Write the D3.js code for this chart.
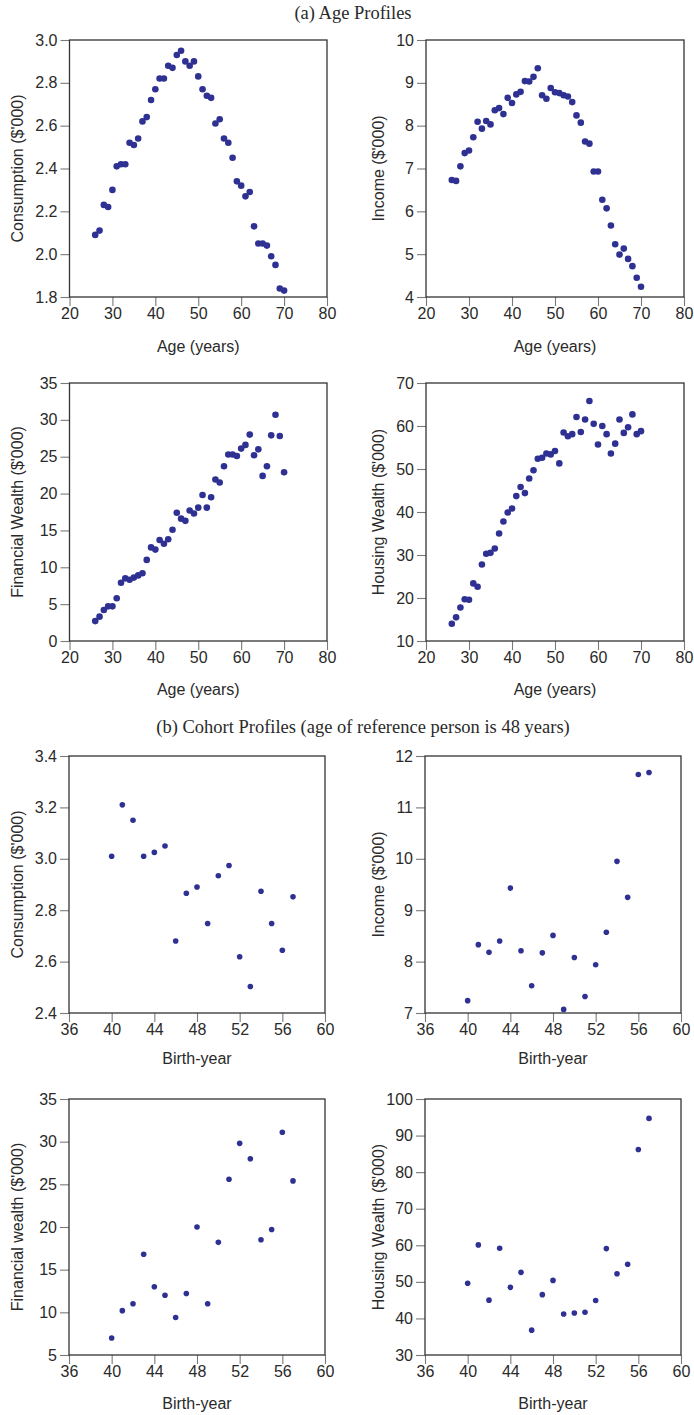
<!DOCTYPE html>
<html>
<head>
<meta charset="utf-8">
<script src="https://cdn.jsdelivr.net/npm/d3@7"></script>
<style>
  body { margin: 0; background: #fff; }
  svg text { font-family: "Liberation Sans", Arial, sans-serif; fill: #2a2a2a; }
  .title { font-family: "Liberation Serif", "Times New Roman", serif !important; }
</style>
</head>
<body>
<svg id="chart" width="694" height="1415"></svg>
<script>
// ---- data ----
const ages = [26,27,28,29,30,31,32,33,34,35,36,37,38,39,40,41,42,43,44,45,46,47,48,
              49,50,51,52,53,54,55,56,57,58,59,60,61,62,63,64,65,66,67,68,69,70];

const consumptionAge = [2.09,2.11,2.23,2.22,2.30,2.41,2.42,2.42,2.52,2.51,2.54,2.62,2.64,2.72,2.77,
  2.82,2.82,2.88,2.87,2.93,2.95,2.90,2.88,2.90,2.83,2.77,2.74,2.73,2.61,2.63,2.54,2.52,2.45,
  2.34,2.32,2.27,2.29,2.13,2.05,2.05,2.04,1.99,1.95,1.84,1.83];

const incomeAge = [6.73,6.71,7.05,7.36,7.42,7.73,8.09,7.93,8.11,8.03,8.36,8.41,8.27,8.65,8.53,
  8.73,8.79,9.04,9.03,9.14,9.34,8.71,8.63,8.88,8.78,8.76,8.71,8.68,8.55,8.24,8.07,7.63,7.58,
  6.93,6.93,6.27,6.07,5.67,5.23,4.99,5.13,4.89,4.72,4.45,4.24];

const finWealthAge = [2.7,3.3,4.2,4.7,4.7,5.8,7.9,8.5,8.3,8.6,8.9,9.2,11.0,12.7,12.4,13.7,13.2,
  13.8,15.1,17.4,16.6,16.3,17.7,17.3,18.1,19.8,18.1,19.5,21.9,21.5,23.7,25.3,25.3,25.1,26.1,
  26.6,28.0,25.2,26.0,22.4,23.7,27.9,30.7,27.8,22.9];

const housWealthAge = [14.0,15.5,17.8,19.7,19.6,23.4,22.6,27.8,30.3,30.5,31.5,35.0,37.8,39.9,40.8,
  43.7,45.8,44.4,47.8,49.7,52.4,52.6,53.6,53.4,54.2,51.3,58.5,57.6,58.1,62.1,58.6,61.5,65.8,
  60.5,55.7,60.0,58.1,53.6,55.9,61.5,58.4,59.7,62.7,58.1,58.8];

const birthYears = [40,41,42,43,44,45,46,47,48,49,50,51,52,53,54,55,56,57];

const consumptionCohort = [3.01,3.21,3.15,3.01,3.025,3.05,2.68,2.866,2.89,2.748,2.934,2.974,
  2.619,2.503,2.874,2.748,2.644,2.852];

const incomeCohort = [7.24,8.33,8.18,8.40,9.43,8.21,7.53,8.17,8.51,7.07,8.08,7.32,7.94,8.57,
  9.95,9.25,11.64,11.68];

const finWealthCohort = [7.0,10.2,11.0,16.8,13.0,12.0,9.4,12.2,20.0,11.0,18.2,25.6,29.8,28.0,
  18.5,19.7,31.1,25.4];

const housWealthCohort = [49.6,60.1,45.0,59.2,48.5,52.6,36.8,46.5,50.4,41.2,41.5,41.7,44.9,
  59.1,52.2,54.8,86.2,94.7];

const ageTicks = [20,30,40,50,60,70,80];
const yearTicks = [36,40,44,48,52,56,60];

const titles = ["(a) Age Profiles", "(b) Cohort Profiles (age of reference person is 48 years)"];

// ---- layout ----
const rows = [
  {top: 40, bottom: 297, xlabOff: 49},
  {top: 383, bottom: 641, xlabOff: 48},
  {top: 756, bottom: 1013, xlabOff: 45},
  {top: 1099, bottom: 1355, xlabOff: 48}
];
const colsTop = [{l: 69.5, r: 327, ylabOff: -52.5}, {l: 426, r: 684, ylabOff: -48}];
const colsBottom = [{l: 69, r: 325, ylabOff: -52}, {l: 425, r: 681, ylabOff: -47}];

const panels = [
  {row: 0, col: 0, x: ages, y: consumptionAge, xd: [20,80], xt: ageTicks, yd: [1.8,3.0], yt: [1.8,2.0,2.2,2.4,2.6,2.8,3.0], fmt: ".1f", xlab: "Age (years)", ylab: "Consumption ($'000)", r: 3.3},
  {row: 0, col: 1, x: ages, y: incomeAge, xd: [20,80], xt: ageTicks, yd: [4,10], yt: [4,5,6,7,8,9,10], fmt: "d", xlab: "Age (years)", ylab: "Income ($'000)", r: 3.3},
  {row: 1, col: 0, x: ages, y: finWealthAge, xd: [20,80], xt: ageTicks, yd: [0,35], yt: [0,5,10,15,20,25,30,35], fmt: "d", xlab: "Age (years)", ylab: "Financial Wealth ($'000)", r: 3.3},
  {row: 1, col: 1, x: ages, y: housWealthAge, xd: [20,80], xt: ageTicks, yd: [10,70], yt: [10,20,30,40,50,60,70], fmt: "d", xlab: "Age (years)", ylab: "Housing Wealth ($'000)", r: 3.3},
  {row: 2, col: 0, x: birthYears, y: consumptionCohort, xd: [36,60], xt: yearTicks, yd: [2.4,3.4], yt: [2.4,2.6,2.8,3.0,3.2,3.4], fmt: ".1f", xlab: "Birth-year", ylab: "Consumption ($'000)", r: 2.8},
  {row: 2, col: 1, x: birthYears, y: incomeCohort, xd: [36,60], xt: yearTicks, yd: [7,12], yt: [7,8,9,10,11,12], fmt: "d", xlab: "Birth-year", ylab: "Income ($'000)", r: 2.8},
  {row: 3, col: 0, x: birthYears, y: finWealthCohort, xd: [36,60], xt: yearTicks, yd: [5,35], yt: [5,10,15,20,25,30,35], fmt: "d", xlab: "Birth-year", ylab: "Financial wealth ($'000)", r: 2.8},
  {row: 3, col: 1, x: birthYears, y: housWealthCohort, xd: [36,60], xt: yearTicks, yd: [30,100], yt: [30,40,50,60,70,80,90,100], fmt: "d", xlab: "Birth-year", ylab: "Housing Wealth ($'000)", r: 2.8}
];

const svg = d3.select("#chart");

// section titles
svg.append("text").attr("class", "title")
  .attr("x", 353).attr("y", 19)
  .attr("text-anchor", "middle").attr("font-size", "18.5px")
  .text(titles[0]);
svg.append("text").attr("class", "title")
  .attr("x", 363).attr("y", 733)
  .attr("text-anchor", "middle").attr("font-size", "18.5px")
  .text(titles[1]);

panels.forEach(p => {
  const row = rows[p.row];
  const col = (p.row < 2 ? colsTop : colsBottom)[p.col];
  const w = col.r - col.l, h = row.bottom - row.top;

  const x = d3.scaleLinear().domain(p.xd).range([0, w]);
  const y = d3.scaleLinear().domain(p.yd).range([h, 0]);

  const g = svg.append("g").attr("transform", `translate(${col.l},${row.top})`);

  // axes
  const xAxis = g.append("g").attr("transform", `translate(0,${h})`)
    .call(d3.axisBottom(x).tickValues(p.xt).tickSize(9).tickPadding(2).tickFormat(d3.format("d")));
  const yAxis = g.append("g")
    .call(d3.axisLeft(y).tickValues(p.yt).tickSize(9).tickPadding(3).tickFormat(d3.format(p.fmt)));

  [xAxis, yAxis].forEach(a => {
    a.select(".domain").remove();
    a.selectAll(".tick line").attr("stroke", "#7a7a7a").attr("stroke-width", 1.1);
    a.selectAll(".tick text").attr("font-size", "16px").attr("font-family", "Liberation Sans, Arial, sans-serif").style("fill", "#2a2a2a");
  });

  // frame
  g.append("rect")
    .attr("x", 0).attr("y", 0).attr("width", w).attr("height", h)
    .attr("fill", "none").attr("stroke", "#333").attr("stroke-width", 1.3);

  // points
  g.selectAll("circle.pt")
    .data(p.x.map((v, i) => [v, p.y[i]]))
    .join("circle")
    .attr("class", "pt")
    .attr("cx", d => x(d[0]))
    .attr("cy", d => y(d[1]))
    .attr("r", p.r)
    .attr("fill", "#2e3192");

  // axis titles
  g.append("text")
    .attr("x", w / 2).attr("y", h + row.xlabOff)
    .attr("dy", "0.35em")
    .attr("text-anchor", "middle").attr("font-size", "16px")
    .text(p.xlab);

  g.append("text")
    .attr("transform", `translate(${col.ylabOff},${h / 2}) rotate(-90)`)
    .attr("dy", "0.35em")
    .attr("text-anchor", "middle").attr("font-size", "16px")
    .text(p.ylab);
});
</script>
</body>
</html>
